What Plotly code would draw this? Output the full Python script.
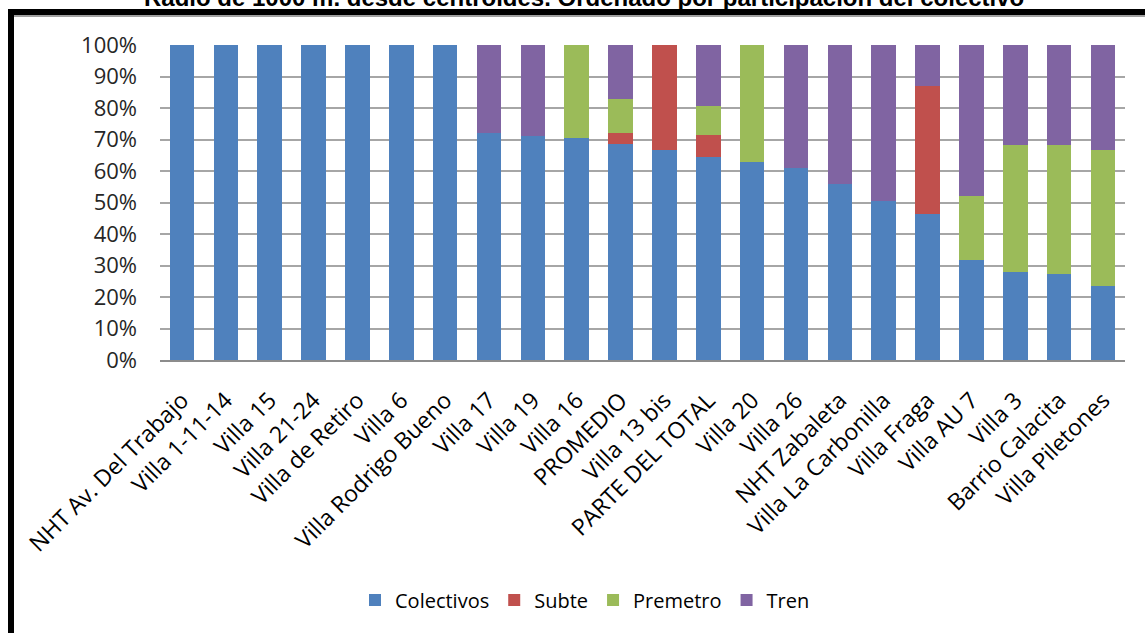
import plotly.graph_objects as go

categories = ["NHT Av. Del Trabajo", "Villa 1-11-14", "Villa 15", "Villa 21-24", "Villa de Retiro",
              "Villa 6", "Villa Rodrigo Bueno", "Villa 17", "Villa 19", "Villa 16", "PROMEDIO",
              "Villa 13 bis", "PARTE DEL TOTAL", "Villa 20", "Villa 26", "NHT Zabaleta",
              "Villa La Carbonilla", "Villa Fraga", "Villa AU 7", "Villa 3", "Barrio Calacita",
              "Villa Piletones"]
colectivos = [100, 100, 100, 100, 100, 100, 100, 72.1, 71.2, 70.5, 68.6, 66.7, 64.4, 62.8, 61.0,
              55.9, 50.4, 46.4, 31.7, 27.8, 27.4, 23.6]
subte = [0, 0, 0, 0, 0, 0, 0, 0, 0, 0, 3.5, 33.3, 6.9, 0, 0, 0, 0, 40.7, 0, 0, 0, 0]
premetro = [0, 0, 0, 0, 0, 0, 0, 0, 0, 29.5, 10.8, 0, 9.3, 37.2, 0, 0, 0, 0, 20.4, 40.4, 40.8, 43.1]
tren = [0, 0, 0, 0, 0, 0, 0, 27.9, 28.8, 0, 17.1, 0, 19.4, 0, 39.0, 44.1, 49.6, 12.9, 47.9, 31.8, 31.8, 33.3]
y_ticks = [0, 10, 20, 30, 40, 50, 60, 70, 80, 90, 100]
y_tick_labels = [f"{v}%" for v in y_ticks]
title_text = "Radio de 1000 m. desde centroides. Ordenado por participación del colectivo"

series = [("Colectivos", colectivos, "#4F81BD"), ("Subte", subte, "#C0504D"),
          ("Premetro", premetro, "#9BBB59"), ("Tren", tren, "#8064A2")]

fig = go.Figure()
for name, vals, col in series:
    fig.add_trace(go.Bar(name=name, x=categories, y=vals, marker=dict(color=col, line=dict(width=0))))

W, H = 1145, 633
L, T = 160, 45
PLOT_BOTTOM, PLOT_RIGHT = 360, 1125
R, B = W - PLOT_RIGHT, H - PLOT_BOTTOM
ph = H - T - B
pw = W - L - R

def py(page_y):
    return 1 + (T - page_y) / ph

def pxx(page_x):
    return (page_x - L) / pw

FONT = "Open Sans"
fig.update_layout(
    width=W, height=H,
    barmode="stack", bargap=0.44,
    margin=dict(l=L, r=R, t=T, b=B),
    paper_bgcolor="white", plot_bgcolor="white",
    font=dict(family=FONT, color="#000000"),
    showlegend=True,
    legend=dict(orientation="h", x=pxx(585), xanchor="center", y=py(600), yanchor="middle",
                font=dict(size=20, family=FONT, color="#000"), traceorder="normal",
                itemwidth=30, tracegroupgap=0),
    xaxis=dict(tickangle=-45, tickfont=dict(size=23, family=FONT, color="#000"),
               showgrid=False, showline=True, linecolor="#8C8C8C", linewidth=1.5,
               ticks="", ticklabelstandoff=16, automargin=False),
    yaxis=dict(range=[0, 100], tickvals=y_ticks, ticktext=y_tick_labels,
               tickfont=dict(size=22, family=FONT, color="#262626"),
               showgrid=True, gridcolor="#A6A6A6", gridwidth=1.5, zeroline=False,
               showline=False, ticks="", ticklabelstandoff=22, automargin=False),
    annotations=[dict(text="<b>" + title_text + "</b>", xref="paper", yref="paper",
                      x=pxx(584), y=py(13), xanchor="center", yanchor="bottom", showarrow=False,
                      font=dict(family="Liberation Sans", size=24, color="#000"))],
    shapes=[
        dict(type="rect", xref="paper", yref="paper", x0=pxx(8), x1=pxx(1150), y0=py(17), y1=py(15),
             fillcolor="#A0A0A0", line=dict(width=0), layer="above"),
        dict(type="rect", xref="paper", yref="paper", x0=pxx(8), x1=pxx(1150), y0=py(15), y1=py(9),
             fillcolor="#000", line=dict(width=0), layer="above"),
        dict(type="rect", xref="paper", yref="paper", x0=pxx(8), x1=pxx(14), y0=py(640), y1=py(9),
             fillcolor="#000", line=dict(width=0), layer="above"),
    ],
)

fig.write_html("out.html", config={"displayModeBar": False},
               post_script="document.body.style.margin='0';document.body.style.overflow='hidden';")
